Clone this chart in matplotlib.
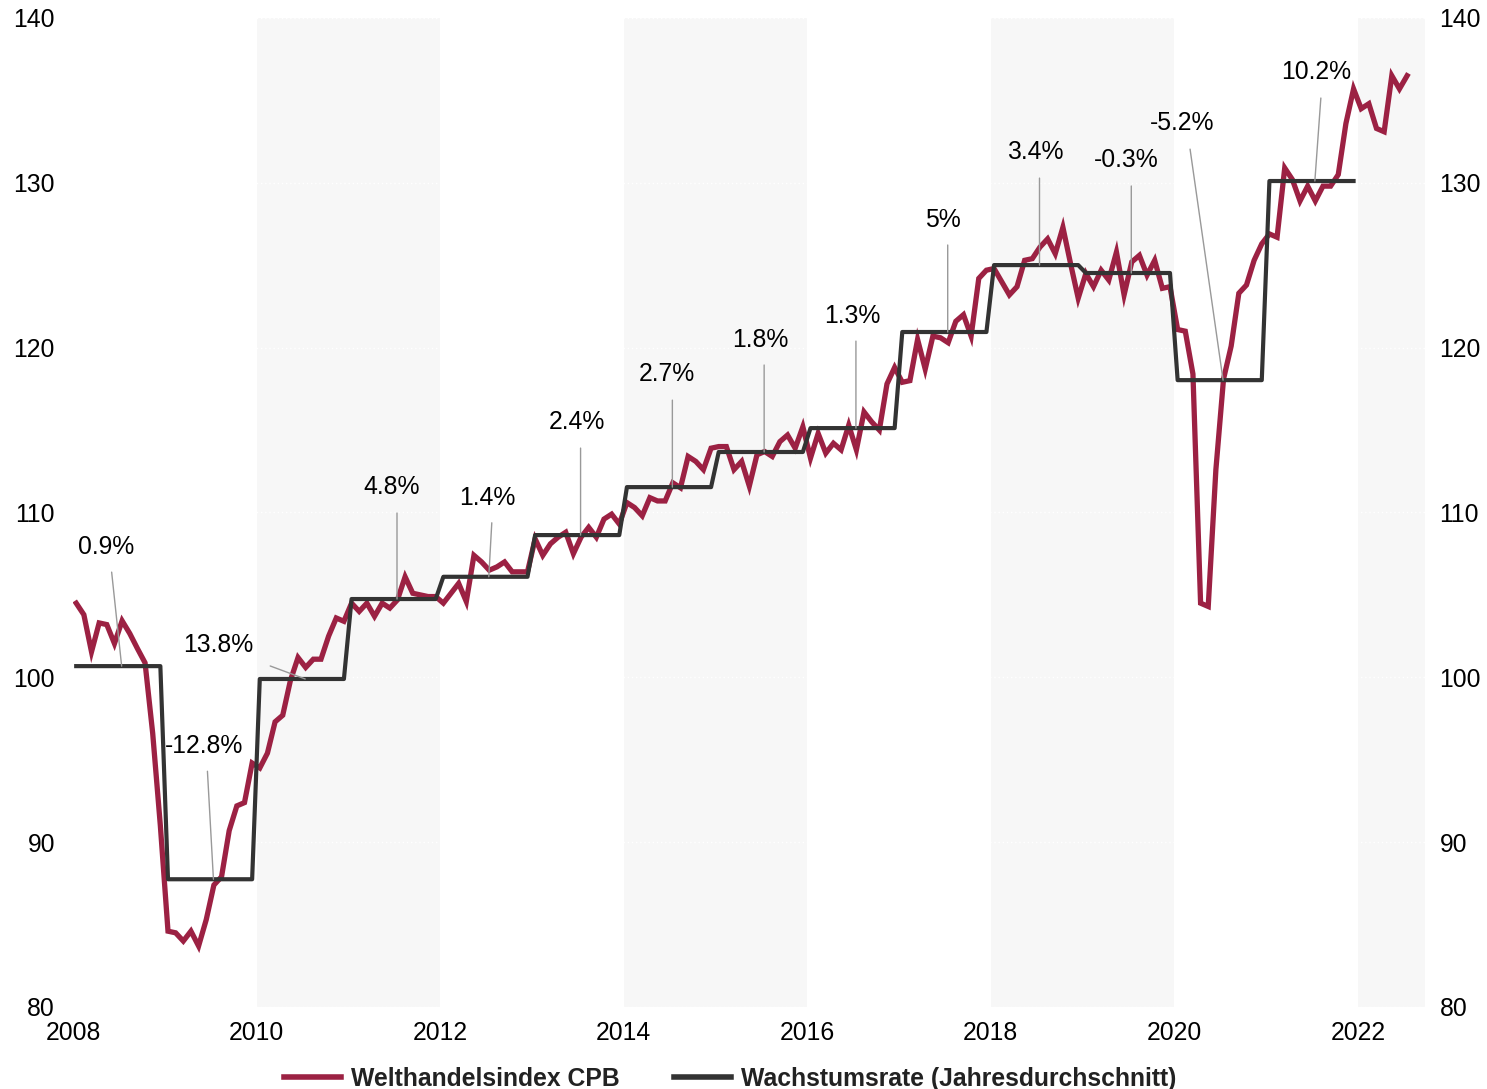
import numpy as np
import matplotlib
matplotlib.use("Agg")
import matplotlib.pyplot as plt

plt.rcParams['font.family'] = ['Liberation Sans', 'DejaVu Sans']

# ---------------- data ----------------
start_year = 2008
index_2008 = [104.5, 103.8, 101.55, 103.3, 103.2, 102.05, 103.43, 102.66, 101.75, 100.88, 96.6, 91.0]
index_2009 = [84.6, 84.5, 84.0, 84.6, 83.7, 85.3, 87.4, 87.9, 90.7, 92.2, 92.4, 94.8]
index_2010 = [94.5, 95.4, 97.3, 97.7, 99.8, 101.2, 100.6, 101.1, 101.1, 102.5, 103.6, 103.4]
index_2011 = [104.5, 104.0, 104.5, 103.7, 104.5, 104.2, 104.7, 106.1, 105.1, 105.0, 104.9, 104.9]
index_2012 = [104.5, 105.1, 105.7, 104.6, 107.4, 107.0, 106.5, 106.7, 107.0, 106.4, 106.4, 106.4]
index_2013 = [108.4, 107.4, 108.1, 108.5, 108.8, 107.5, 108.5, 109.1, 108.5, 109.6, 109.9, 109.3]
index_2014 = [110.6, 110.3, 109.8, 110.9, 110.7, 110.7, 111.8, 111.5, 113.4, 113.1, 112.6, 113.9]
index_2015 = [114.0, 114.0, 112.6, 113.1, 111.6, 113.5, 113.7, 113.4, 114.3, 114.7, 113.9, 115.2]
index_2016 = [113.3, 114.8, 113.6, 114.2, 113.8, 115.3, 113.8, 116.1, 115.5, 115.0, 117.8, 118.8]
index_2017 = [117.9, 118.0, 120.5, 118.7, 120.7, 120.6, 120.3, 121.6, 122.0, 120.7, 124.2, 124.7]
index_2018 = [124.8, 124.0, 123.2, 123.7, 125.3, 125.4, 126.1, 126.6, 125.7, 127.3, 125.1, 123.0]
index_2019 = [124.5, 123.7, 124.7, 124.1, 125.8, 123.2, 125.2, 125.6, 124.4, 125.3, 123.6, 123.7]
index_2020 = [121.1, 121.0, 118.4, 104.5, 104.3, 112.6, 118.1, 120.1, 123.3, 123.8, 125.3, 126.3]
index_2021 = [126.9, 126.7, 130.9, 130.2, 128.9, 129.8, 128.9, 129.8, 129.8, 130.5, 133.6, 135.7]
index_2022 = [134.5, 134.8, 133.3, 133.1, 136.5, 135.7, 136.5]

annual_years = list(range(2008, 2022))
annual_avg = [100.68, 87.75, 99.9, 104.75, 106.1, 108.63, 111.54, 113.67,
              115.12, 120.95, 125.01, 124.53, 118.03, 130.11]
growth_labels = ['0.9%', '-12.8%', '13.8%', '4.8%', '1.4%', '2.4%', '2.7%',
                 '1.8%', '1.3%', '5%', '3.4%', '-0.3%', '-5.2%', '10.2%']

series_names = ['Welthandelsindex CPB', 'Wachstumsrate (Jahresdurchschnitt)']
shade_starts = [2010, 2014, 2018, 2022]
y_ticks = [80, 90, 100, 110, 120, 130, 140]
x_ticks = [2008, 2010, 2012, 2014, 2016, 2018, 2020, 2022]

# ---------------- layout / style ----------------
RED = '#9c2143'
DARK = '#333333'
SHADE = '#f7f7f7'
FS = 17.8
DATE_SHIFT = 0.035  # monthly points sit slightly after the month start
# annotation offsets in pixels relative to anchor (line start, text centre)
line_off = [(-10, 94), (-6, 108), (-35, 13), (0, 86), (3, 54), (0, 87), (0, 87),
            (0, 87), (0, 87), (0, 87), (0, 87), (0, 87), (-33, 231), (6, 83)]
text_off = [(-16, 119), (-9, 133), (-87, 34), (-5, 112), (-1, 79), (-4, 113), (-5, 113),
            (-4, 112), (-4, 112), (-5, 112), (-4, 113), (-5, 113), (-41, 257), (1, 109)]

monthly = np.concatenate([index_2008, index_2009, index_2010, index_2011, index_2012,
                          index_2013, index_2014, index_2015, index_2016, index_2017,
                          index_2018, index_2019, index_2020, index_2021, index_2022])
t_index = start_year + DATE_SHIFT + np.arange(len(monthly)) / 12.0
step_vals = np.repeat(annual_avg, 12)
t_step = start_year + DATE_SHIFT + np.arange(len(step_vals)) / 12.0

fig = plt.figure(figsize=(14.87, 10.89), dpi=100)
ax = fig.add_axes([73 / 1487, 82 / 1089, 1352 / 1487, 989 / 1089])
xmax = 2022.73
ax.set_xlim(2008, xmax)
ax.set_ylim(80, 140)

for s in shade_starts:
    ax.axvspan(s, min(s + 2, xmax), color=SHADE, lw=0, zorder=0)

ax.set_yticks(y_ticks)
ax.set_xticks(x_ticks)
ax.grid(axis='y', color='white', linestyle=(0, (1, 2)), lw=1, zorder=0.5)
ax.grid(axis='x', visible=False)
for sp in ax.spines.values():
    sp.set_visible(False)
ax.tick_params(axis='both', length=0, labelsize=FS, colors='#000000')
ax.tick_params(axis='y', pad=13)
ax.tick_params(axis='x', pad=10)

ax2 = ax.twinx()
ax2.set_ylim(80, 140)
ax2.set_yticks(y_ticks)
for sp in ax2.spines.values():
    sp.set_visible(False)
ax2.tick_params(axis='y', length=0, labelsize=FS, colors='#000000', pad=10.5)

l1, = ax.plot(t_index, monthly, color=RED, lw=3.8, solid_joinstyle='miter', zorder=3,
              label=series_names[0])
l2, = ax.plot(t_step, step_vals, color=DARK, lw=3.0, zorder=4, label=series_names[1])

for yr, val, lab, lo, to in zip(annual_years, annual_avg, growth_labels, line_off, text_off):
    anchor = (yr + 0.53, val)
    ax.annotate('', xy=anchor, xytext=lo, textcoords='offset pixels',
                arrowprops=dict(arrowstyle='-', color='#999999', lw=1.0,
                                shrinkA=0, shrinkB=0), zorder=5)
    ax.annotate(lab, xy=anchor, xytext=to, textcoords='offset pixels',
                ha='center', va='center', fontsize=FS, color='#000000', zorder=6)

leg = fig.legend(handles=[l1, l2], loc='center', bbox_to_anchor=(0.491, 0.0095),
                 ncol=2, frameon=False, fontsize=FS, handlelength=2.3,
                 handletextpad=0.4, columnspacing=2.2, borderaxespad=0)
for txt in leg.get_texts():
    txt.set_fontweight('bold')
    txt.set_color('#222222')
for h in leg.legend_handles:
    h.set_linewidth(4)

fig.savefig('out.png', dpi=100)
